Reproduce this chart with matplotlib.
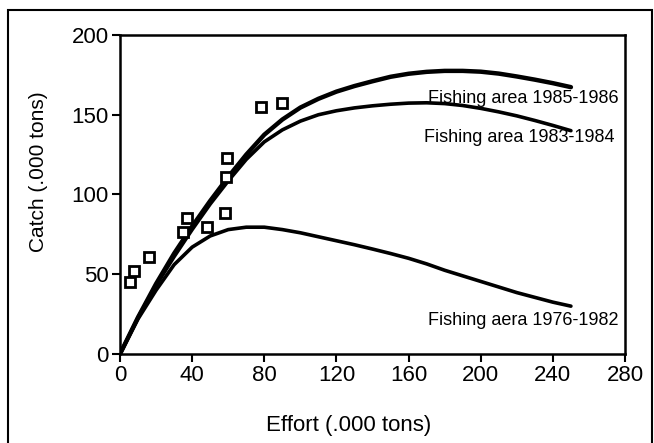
import numpy as np
import matplotlib.pyplot as plt
from matplotlib.patches import Rectangle

plt.rcParams['font.family'] = ['Liberation Sans', 'DejaVu Sans']

# observed catch vs effort
obs_effort = [5.6, 7.8, 16.0, 34.8, 37.4, 48.1, 58.0, 58.7, 59.4, 78.1, 89.6]
obs_catch = [45.0, 52.2, 60.8, 76.8, 85.5, 79.6, 88.7, 110.8, 122.6, 155.0, 157.6]

# fitted curves
effort_grid = [0, 10, 20, 30, 40, 50, 60, 70, 80, 90, 100, 110, 120, 130, 140,
               150, 160, 170, 180, 190, 200, 210, 220, 230, 240, 250]
catch_8586 = [0, 23, 44, 63, 80, 96, 111, 125, 137.5, 147, 154.5, 160, 164.5, 168,
              171, 173.8, 175.7, 176.9, 177.5, 177.5, 177, 175.8, 174, 172, 169.8, 167.3]
catch_8384 = [0, 23, 43, 61, 78, 94, 108.5, 122, 133, 140.5, 146, 150, 152.5, 154.3,
              155.6, 156.6, 157.3, 157.5, 157, 155.8, 154, 151.8, 149.3, 146.4, 143.3, 140]
catch_7682 = [0, 22, 40, 56, 67, 74, 78, 79.5, 79.5, 78, 76, 73.5, 71, 68.5, 65.8,
              63, 60, 56.5, 52.5, 49, 45.5, 42, 38.5, 35.5, 32.5, 30]

labels = ['Fishing area 1985-1986', 'Fishing area 1983-1984', 'Fishing aera 1976-1982']
label_x = [276.5, 274, 276.5]
label_y = [160, 136, 21]

fig = plt.figure(figsize=(6.54, 4.43), dpi=100)
ax = fig.add_axes([0.1835, 0.2009, 0.7722, 0.7201])

ax.plot(effort_grid, catch_8586, color='black', lw=3.2, solid_capstyle='round',
        solid_joinstyle='round')
ax.plot(effort_grid, catch_8384, color='black', lw=2.6, solid_capstyle='round',
        solid_joinstyle='round')
ax.plot(effort_grid, catch_7682, color='black', lw=2.6, solid_capstyle='round',
        solid_joinstyle='round')
ax.plot(obs_effort, obs_catch, ls='none', marker='s', ms=7, mfc='white',
        mec='black', mew=2)

for txt, xx, yy in zip(labels, label_x, label_y):
    ax.text(xx, yy, txt, ha='right', va='center', fontsize=13)

ax.set_xlim(0, 280)
ax.set_ylim(0, 200)
ax.set_xticks(np.arange(0, 281, 40))
ax.set_yticks(np.arange(0, 201, 50))
ax.tick_params(direction='out', length=6, width=1.5, labelsize=16, pad=2)
for sp in ax.spines.values():
    sp.set_linewidth(1.8)

ax.set_xlabel('Effort (.000 tons)', fontsize=16)
ax.set_ylabel('Catch (.000 tons)', fontsize=15)
ax.xaxis.set_label_coords(0.453, -0.19)
ax.yaxis.set_label_coords(-0.142, 0.573)

# outer frame of the scanned figure
fig.patches.append(Rectangle((8 / 654, -0.05), 644 / 654, 1.05 - 10 / 443,
                             transform=fig.transFigure, fill=False,
                             edgecolor='black', lw=1.5))

fig.savefig('out.png', dpi=100)
